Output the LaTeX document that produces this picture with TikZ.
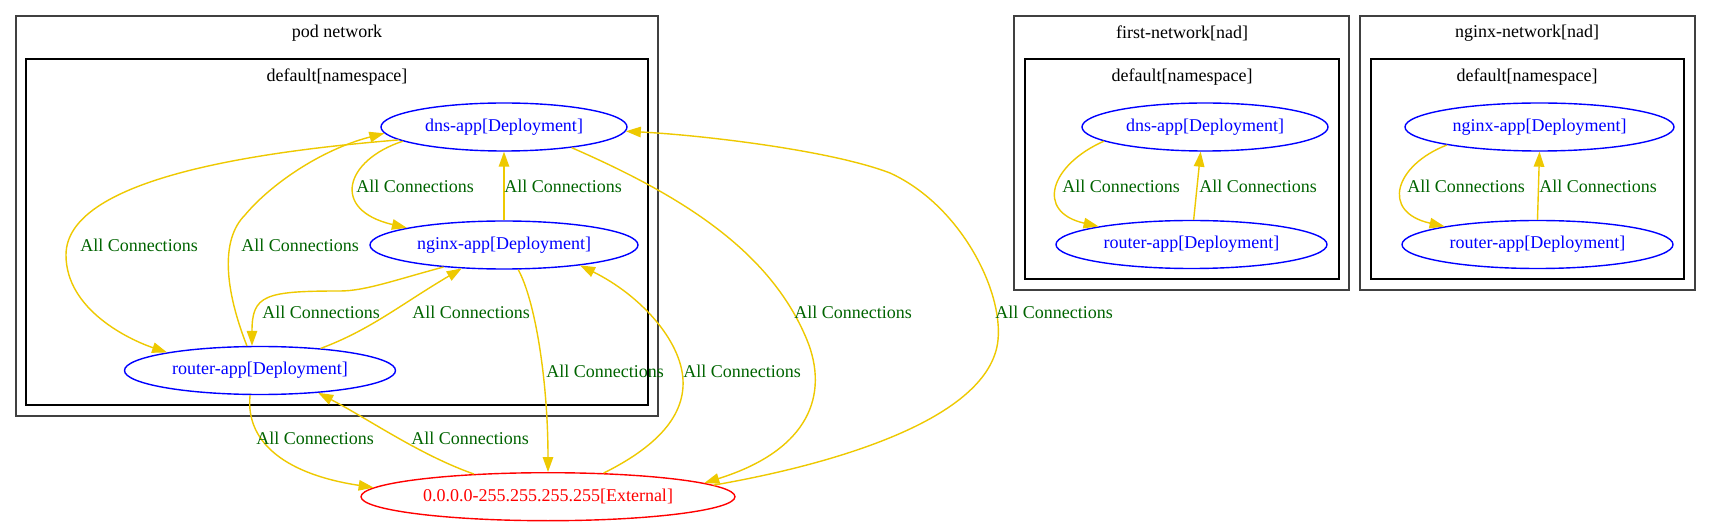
\documentclass[tikz,border=0pt]{standalone}
\usepackage{fontspec}
\setmainfont{Liberation Serif}
\usetikzlibrary{shapes.geometric,arrows.meta}
\definecolor{edgegold}{HTML}{EEC900}
\definecolor{lblgreen}{HTML}{006400}
\begin{document}
\begin{tikzpicture}[x=1pt,y=-1pt,
  every node/.style={font=\fontsize{18}{21}\selectfont},
  appnode/.style={ellipse, draw=blue, text=blue, line width=1.4pt, inner sep=0pt, minimum height=48pt},
  extnode/.style={ellipse, draw=red, text=red, line width=1.4pt, inner sep=0pt, minimum height=48pt, minimum width=374pt},
  connline/.style={draw=edgegold, line width=1.4pt, -{Triangle[length=15pt,width=10.5pt]}},
  lbl/.style={text=lblgreen, inner sep=0pt},
  outerbox/.style={draw=black!75, line width=2pt},
  innerbox/.style={draw=black, line width=1.4pt},
  clustertitle/.style={inner sep=0pt, text=black}]
\useasboundingbox (0,0) rectangle (1711,526);
\fill[white] (0,0) rectangle (1711,526);

% clusters
\draw[outerbox] (16,16) rectangle (658,416);
\node[clustertitle] (podt) at (337,33) {pod network};
\draw[innerbox] (26,59) rectangle (648,405);
\node[clustertitle] (podns) at (337,77) {default[namespace]};

\draw[outerbox] (1014,16) rectangle (1349,290);
\node[clustertitle] (firstt) at (1182,33) {first-network[nad]};
\draw[innerbox] (1025,59) rectangle (1339,279);
\node[clustertitle] (firstns) at (1182,77) {default[namespace]};

\draw[outerbox] (1360,16) rectangle (1695,290);
\node[clustertitle] (ngt) at (1527,33) {nginx-network[nad]};
\draw[innerbox] (1371,59) rectangle (1684,279);
\node[clustertitle] (ngns) at (1527,77) {default[namespace]};

% nodes
\node[appnode, minimum width=246pt] (dns) at (504,127) {dns-app[Deployment]};
\node[appnode, minimum width=268pt] (nginx) at (504,245) {nginx-app[Deployment]};
\node[appnode, minimum width=271pt] (router) at (260,370.5) {router-app[Deployment]};
\node[extnode] (extn) at (548,496.7) {0.0.0.0-255.255.255.255[External]};

\node[appnode, minimum width=246pt] (fdns) at (1205,127) {dns-app[Deployment]};
\node[appnode, minimum width=271pt] (frouter) at (1191.5,244.5) {router-app[Deployment]};

\node[appnode, minimum width=269pt] (nnginx) at (1539.5,127) {nginx-app[Deployment]};
\node[appnode, minimum width=271pt] (nrouter) at (1537.5,244.5) {router-app[Deployment]};

% edges in pod network
\draw[connline] (dns.187) .. controls (250,152) and (66,180) .. (66,255) .. controls (66,310) and (130,340) .. (router.169);
\draw[connline] (router.118) .. controls (225,290) and (220,240) .. (245,215) .. controls (270,185) and (320,150) .. (dns.183);
\draw[connline] (dns.188) .. controls (345,160) and (330,210) .. (nginx.170);
\draw[connline] (nginx.north) -- (dns.south);
\draw[connline] (nginx.200) .. controls (395,280) and (365,291) .. (340,291) .. controls (265,291) and (252,295) .. (router.108);
\draw[connline] (router.20) .. controls (370,330) and (400,305) .. (nginx.209);
\draw[connline] (nginx.300) .. controls (535,300) and (548,380) .. (extn.north);
\draw[connline] (extn.23) .. controls (650,450) and (685,420) .. (683,380) .. controls (681,340) and (640,295) .. (nginx.345);
\draw[connline] (router.248) .. controls (245,445) and (290,475) .. (extn.177);
\draw[connline] (extn.163) .. controls (420,455) and (370,420) .. (router.339);
\draw[connline] (dns.343) .. controls (680,195) and (770,250) .. (807,340) .. controls (829,394) and (810,450) .. (extn.5);
\draw[connline] (extn.4) .. controls (830,465) and (990,420) .. (998,340) .. controls (1003,290) and (960,205) .. (890,173) .. controls (830,150) and (700,135) .. (dns.358);

% edges in first-network
\draw[connline] (fdns.188) .. controls (1050,165) and (1035,212) .. (frouter.169);
\draw[connline] (frouter.85) -- (fdns.260);

% edges in nginx-network
\draw[connline] (nnginx.191) .. controls (1395,165) and (1380,212) .. (nrouter.169);
\draw[connline] (nrouter.north) -- (nnginx.south);

% labels
\node[lbl] (l1) at (139,245) {All Connections};
\node[lbl] (l2) at (300,245) {All Connections};
\node[lbl] (l3) at (415,186) {All Connections};
\node[lbl] (l4) at (563,186) {All Connections};
\node[lbl] (l5) at (321,312) {All Connections};
\node[lbl] (l6) at (471,312) {All Connections};
\node[lbl] (l7) at (605,371) {All Connections};
\node[lbl] (l8) at (742,371) {All Connections};
\node[lbl] (l9) at (315,438) {All Connections};
\node[lbl] (l10) at (470,438) {All Connections};
\node[lbl] (l11) at (853,312) {All Connections};
\node[lbl] (l12) at (1054,312) {All Connections};
\node[lbl] (l13) at (1121,186) {All Connections};
\node[lbl] (l14) at (1258,186) {All Connections};
\node[lbl] (l15) at (1466,186) {All Connections};
\node[lbl] (l16) at (1598,186) {All Connections};
\end{tikzpicture}
\end{document}
